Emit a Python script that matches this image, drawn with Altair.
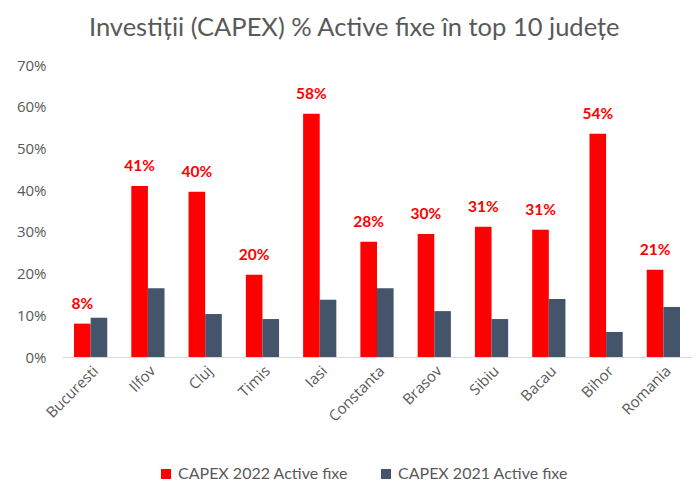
import altair as alt
import pandas as pd

categories = ["Bucuresti", "Ilfov", "Cluj", "Timis", "Iasi", "Constanta",
              "Brasov", "Sibiu", "Bacau", "Bihor", "Romania"]
capex_2022 = [0.08, 0.41, 0.396, 0.197, 0.583, 0.276, 0.295, 0.312, 0.305, 0.535, 0.209]
capex_2021 = [0.094, 0.165, 0.103, 0.091, 0.137, 0.165, 0.11, 0.091, 0.139, 0.06, 0.12]
series_names = ["CAPEX 2022 Active fixe", "CAPEX 2021 Active fixe"]
series_colors = ["#FF0000", "#44546A"]

rows = []
for c, a, b in zip(categories, capex_2022, capex_2021):
    rows.append({"judet": c, "serie": series_names[0], "val": a})
    rows.append({"judet": c, "serie": series_names[1], "val": b})
df = pd.DataFrame(rows)

FONT = "Lato"
AXFONT = "Open Sans"
GRAY = "#595959"

x = alt.X("judet:N", sort=categories, title=None,
          scale=alt.Scale(paddingInner=0.42, paddingOuter=0.21),
          axis=alt.Axis(labelAngle=-45, labelFontSize=15, labelColor=GRAY,
                        labelFont=AXFONT, ticks=False, domainColor="#D9D9D9",
                        labelPadding=6))
xo = alt.XOffset("serie:N", sort=series_names,
                 scale=alt.Scale(domain=series_names, paddingInner=0, paddingOuter=0))
y = alt.Y("val:Q", title=None,
          scale=alt.Scale(domain=[0, 0.7], nice=False),
          axis=alt.Axis(format=".0%", values=[0, 0.1, 0.2, 0.3, 0.4, 0.5, 0.6, 0.7],
                        labelFontSize=15, labelColor=GRAY, labelFont=AXFONT,
                        ticks=False, domain=False, grid=False, labelPadding=16))

bars = alt.Chart(df).mark_bar().encode(
    x=x, xOffset=xo, y=y,
    color=alt.Color("serie:N", sort=series_names,
                    scale=alt.Scale(domain=series_names, range=series_colors),
                    legend=alt.Legend(title=None, orient="none", direction="horizontal",
                                      legendX=96, legendY=401, symbolType="square",
                                      symbolSize=100, symbolStrokeWidth=0,
                                      labelFontSize=16, labelColor=GRAY, labelFont=FONT,
                                      labelLimit=400,
                                      columnPadding=30, labelOffset=4))
)

labels = alt.Chart(df).transform_filter(
    alt.datum.serie == series_names[0]
).mark_text(baseline="alphabetic", dy=-15, fontSize=15.5, fontWeight="bold",
            color="#FF0000", font=FONT).encode(
    x=x, xOffset=xo, y=y, text=alt.Text("val:Q", format=".0%")
)

chart = (bars + labels).properties(
    width=630, height=292,
    padding={"left": 54, "top": 57, "right": 0, "bottom": 125},
    autosize=alt.AutoSizeParams(type="none"),
    title=alt.TitleParams("Investiții (CAPEX) % Active fixe în top 10 județe",
                          font=FONT, fontSize=25.5, fontWeight="normal", color=GRAY,
                          anchor="middle", frame="bounds", offset=17),
).configure_view(stroke=None)

chart.save("out.html", embed_options={"renderer": "svg", "actions": False})
